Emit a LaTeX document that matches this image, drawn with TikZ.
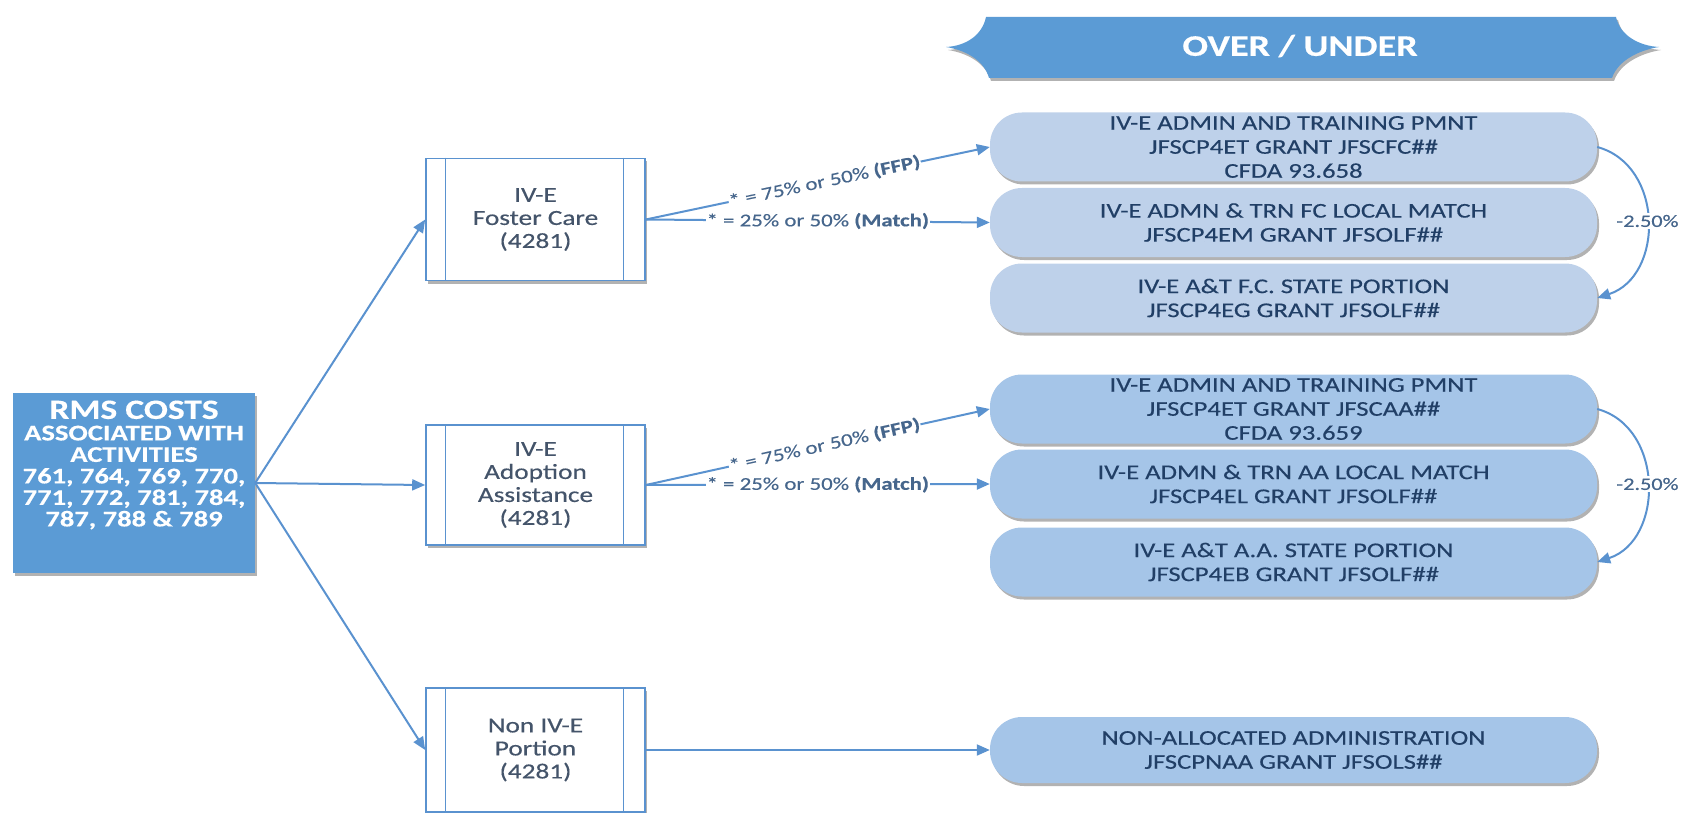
\documentclass[tikz,border=0pt]{standalone}
\usepackage{fontspec}
\setmainfont[FakeStretch=1.27,FakeBold=0.35]{Carlito}
\usetikzlibrary{arrows.meta,shadows}
\definecolor{ofblue}{HTML}{5B9BD5}
\definecolor{lineblue}{HTML}{5A92CF}
\definecolor{slate}{HTML}{44546A}
\definecolor{navy}{HTML}{213F66}
\definecolor{fcfill}{HTML}{BED1EA}
\definecolor{aafill}{HTML}{A5C5E8}
\definecolor{lbl}{HTML}{46668C}
\begin{document}
\begin{tikzpicture}[x=1pt,y=-1pt,
  sh/.style={drop shadow={shadow xshift=2pt,shadow yshift=-3pt,opacity=0.3,fill=black}},
  conn/.style={draw=lineblue,line width=2pt,-{Triangle[length=13pt,width=11pt]}},
  midbox/.style={draw=lineblue,line width=1.6pt,fill=white,sh,minimum width=219pt,minimum height=122pt,align=center,text=slate,font=\fontsize{21.5}{23}\selectfont},
  pill/.style={rounded corners=32pt,minimum width=607pt,minimum height=69pt,sh,align=center,text=navy,font=\fontsize{21}{24}\selectfont},
  fcpill/.style={pill,fill=fcfill},
  aapill/.style={pill,fill=aafill},
  ratelbl/.style={fill=white,inner sep=0.5pt,text=lbl,font=\fontsize{18}{18}\selectfont},
  pctlbl/.style={fill=white,inner sep=2pt,text=lbl,font=\fontsize{17.5}{18}\selectfont},
  procline/.style={draw=lineblue,line width=1.2pt}
]
\useasboundingbox (0,0) rectangle (1689,813);

% banner
\fill[black,opacity=0.3,shift={(2,3)}] (986,17) -- (1616,17) .. controls (1620,36) and (1640,46) .. (1659,47) .. controls (1640,50) and (1618,60) .. (1612,78) -- (989,78) .. controls (984,60) and (965,50) .. (946,47) .. controls (965,46) and (982,36) .. (986,17) -- cycle;
\fill[ofblue] (986,17) -- (1616,17) .. controls (1620,36) and (1640,46) .. (1659,47) .. controls (1640,50) and (1618,60) .. (1612,78) -- (989,78) .. controls (984,60) and (965,50) .. (946,47) .. controls (965,46) and (982,36) .. (986,17) -- cycle;
\node[text=white,font=\fontsize{30}{30}\selectfont\bfseries] (ou) at (1300,46) {OVER / UNDER};

% source box
\node[fill=ofblue,sh,minimum width=242pt,minimum height=180pt] (rms) at (134,483) {};
\node[text=white,align=center,font=\fontsize{22.5}{21.5}\selectfont\bfseries] (rmst) at (134,465)
  {{\fontsize{28}{24}\selectfont RMS COSTS}\\ASSOCIATED WITH\\ACTIVITIES\\761, 764, 769, 770,\\771, 772, 781, 784,\\787, 788 \& 789};

% middle boxes
\node[midbox] (fc) at (535.5,219.5) {IV-E\\Foster Care\\(4281)};
\node[midbox,minimum height=120pt] (aa) at (535.5,485) {IV-E\\Adoption\\Assistance\\(4281)};
\node[midbox,minimum height=124pt] (nie) at (535.5,750) {Non IV-E\\Portion\\(4281)};
\foreach \n in {fc,aa,nie}{
  \draw[procline] ([xshift=20pt]\n.north west) -- ([xshift=20pt]\n.south west);
  \draw[procline] ([xshift=-22pt]\n.north east) -- ([xshift=-22pt]\n.south east);
}

% right boxes
\node[fcpill] (fc1) at (1293.5,147) {IV-E ADMIN AND TRAINING PMNT\\JFSCP4ET GRANT JFSCFC\#\#\\CFDA 93.658};
\node[fcpill] (fc2) at (1293.5,222.5) {IV-E ADMN \& TRN FC LOCAL MATCH\\JFSCP4EM GRANT JFSOLF\#\#};
\node[fcpill] (fc3) at (1293.5,298) {IV-E A\&T F.C. STATE PORTION\\JFSCP4EG GRANT JFSOLF\#\#};
\node[aapill] (aa1) at (1293.5,409) {IV-E ADMIN AND TRAINING PMNT\\JFSCP4ET GRANT JFSCAA\#\#\\CFDA 93.659};
\node[aapill] (aa2) at (1293.5,484) {IV-E ADMN \& TRN AA LOCAL MATCH\\JFSCP4EL GRANT JFSOLF\#\#};
\node[aapill] (aa3) at (1293.5,562) {IV-E A\&T A.A. STATE PORTION\\JFSCP4EB GRANT JFSOLF\#\#};
\node[aapill,minimum height=66pt] (na) at (1293.5,750) {NON-ALLOCATED ADMINISTRATION\\JFSCPNAA GRANT JFSOLS\#\#};

% connectors
\draw[conn] (rms.east) -- (fc.west);
\draw[conn] (rms.east) -- (aa.west);
\draw[conn] (rms.east) -- (nie.west);

\draw[conn] (fc.east) -- node[ratelbl,sloped,pos=0.52] {* = 75\% or 50\% \textbf{(FFP)}} (fc1.west);
\draw[conn] (fc.east) -- node[ratelbl,pos=0.5] {* = 25\% or 50\% \textbf{(Match)}} (fc2.west);
\draw[conn] (aa.east) -- node[ratelbl,sloped,pos=0.52] {* = 75\% or 50\% \textbf{(FFP)}} (aa1.west);
\draw[conn] (aa.east) -- node[ratelbl,pos=0.5] {* = 25\% or 50\% \textbf{(Match)}} (aa2.west);
\draw[conn] (nie.east) -- (na.west);

\draw[conn] (fc1.east) .. controls +(67,18) and +(67,-22) .. (fc3.east) node[pctlbl,pos=0.5] {-2.50\%};
\draw[conn] (aa1.east) .. controls +(67,18) and +(67,-22) .. (aa3.east) node[pctlbl,pos=0.5] {-2.50\%};
\end{tikzpicture}
\end{document}
